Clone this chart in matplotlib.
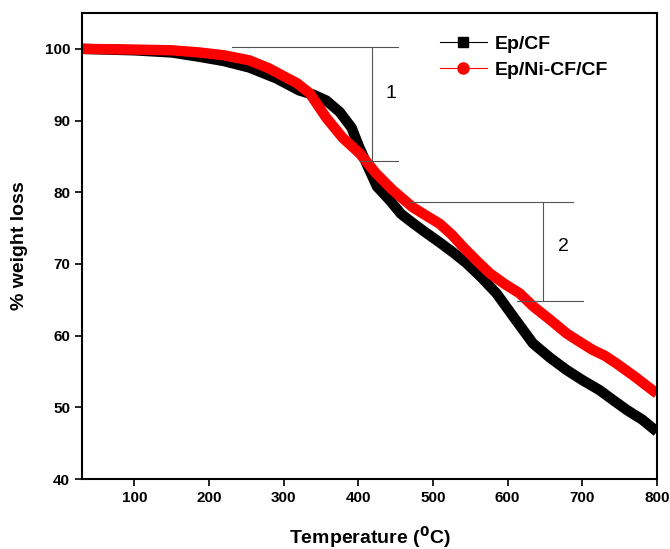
import matplotlib.pyplot as plt

plt.rcParams['font.family'] = ['Liberation Sans', 'DejaVu Sans']

# TGA curves
temp_ep = [30, 100, 150, 187, 220, 254, 290, 321, 340, 357, 375, 391, 400, 411, 425,
           442, 457, 473, 490, 509, 527, 545, 565, 585, 610, 634, 657, 679, 700,
           723, 740, 760, 780, 800]
wt_ep = [100.0, 99.8, 99.5, 98.9, 98.3, 97.4, 95.9, 94.2, 93.6, 92.8, 91.2, 89.0, 86.6,
         84.0, 80.8, 78.9, 77.0, 75.7, 74.4, 73.0, 71.6, 70.1, 68.1, 65.9, 62.3, 58.9,
         56.9, 55.2, 53.8, 52.4, 51.1, 49.6, 48.3, 46.6]

temp_ni = [30, 100, 150, 187, 220, 254, 280, 298, 318, 335, 357, 379, 402, 424, 446,
           473, 490, 509, 525, 540, 558, 576, 596, 616, 634, 657, 679, 697, 714, 730,
           746, 770, 800]
wt_ni = [100.0, 99.9, 99.8, 99.5, 99.1, 98.4, 97.3, 96.3, 95.2, 93.8, 90.4, 87.6, 85.4,
         82.6, 80.3, 77.9, 76.8, 75.6, 74.1, 72.4, 70.5, 68.7, 67.2, 65.9, 64.1, 62.2,
         60.3, 59.1, 58.0, 57.2, 56.1, 54.3, 51.9]

fig = plt.figure(figsize=(6.7, 5.49), dpi=100)
ax = fig.add_axes([0.1224, 0.1275, 0.8582, 0.8488])

ax.plot(temp_ep, wt_ep, color='black', lw=7.5, solid_capstyle='butt',
        solid_joinstyle='round', label='_nolegend_')
ax.plot(temp_ni, wt_ni, color='red', lw=7.5, solid_capstyle='butt',
        solid_joinstyle='round', label='_nolegend_')

# legend proxies
ax.plot([], [], color='black', lw=0.8, marker='s', ms=7, label='Ep/CF')
ax.plot([], [], color='red', lw=0.8, marker='o', ms=8, label='Ep/Ni-CF/CF')
leg = ax.legend(loc='upper right', bbox_to_anchor=(0.945, 0.99), frameon=False,
                prop={'weight': 'bold', 'size': 14}, handlelength=2.4,
                handletextpad=0.4, labelspacing=0.45)

# step annotations
gc = '#555555'
ax.plot([231, 453], [100.2, 100.2], color=gc, lw=0.8)
ax.plot([418, 418], [100.2, 84.4], color=gc, lw=0.8)
ax.plot([402, 453], [84.4, 84.4], color=gc, lw=0.8)
ax.text(444, 93.8, '1', fontsize=14, ha='center', va='center')

ax.plot([469, 687], [78.7, 78.7], color=gc, lw=0.8)
ax.plot([647, 647], [78.7, 64.8], color=gc, lw=0.8)
ax.plot([612, 701], [64.8, 64.8], color=gc, lw=0.8)
ax.text(675, 72.5, '2', fontsize=14, ha='center', va='center')

ax.set_xlim(30, 800)
ax.set_ylim(40, 105)
ax.set_xticks([100, 200, 300, 400, 500, 600, 700, 800])
ax.set_yticks([40, 50, 60, 70, 80, 90, 100])
ax.tick_params(direction='out', length=5, width=1.2, labelsize=11, top=False, right=False)
for lab in ax.get_xticklabels() + ax.get_yticklabels():
    lab.set_fontweight('bold')
for s in ax.spines.values():
    s.set_linewidth(1.5)

ax.set_xlabel(r'Temperature ($\mathbf{^0}$C)', fontsize=14, fontweight='bold', labelpad=14)
ax.set_ylabel('% weight loss', fontsize=14, fontweight='bold', labelpad=12)

fig.savefig('out.png', dpi=100)
